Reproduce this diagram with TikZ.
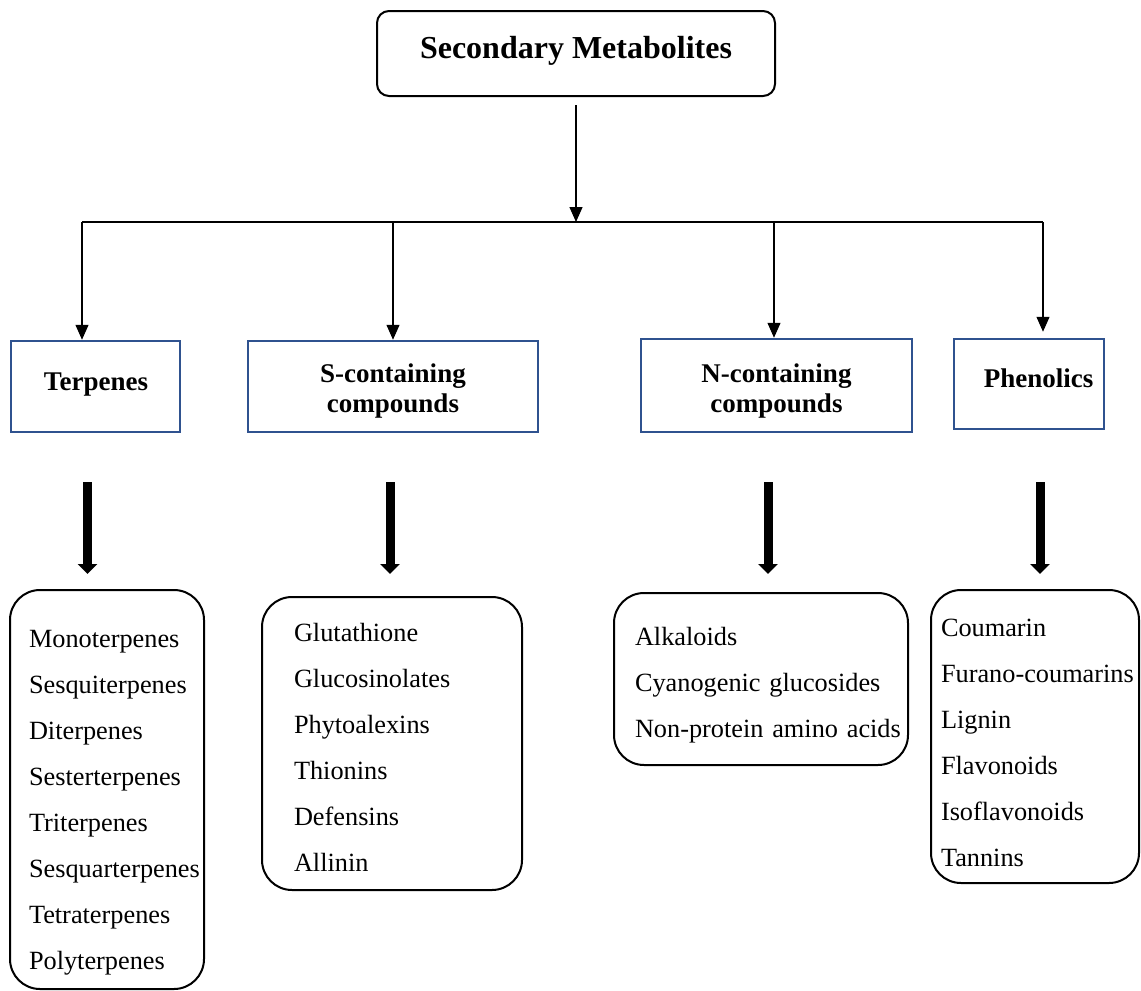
\documentclass[tikz,border=0pt]{standalone}
\usepackage{fontspec}
\setmainfont{Liberation Serif}
\usetikzlibrary{arrows.meta}
\definecolor{boxblue}{RGB}{47,82,143}
\tikzset{
  topbox/.style={draw=black, line width=2pt, rounded corners=12pt, inner sep=0pt,
    font=\fontsize{32pt}{38pt}\selectfont\bfseries, text height=22pt, text depth=13pt},
  catbox/.style={draw=boxblue, line width=2.5pt, inner sep=0pt},
  cattext/.style={inner sep=0pt, align=center, font=\fontsize{27pt}{30pt}\selectfont\bfseries},
  listbox/.style={draw=black, line width=2pt, rounded corners=30pt, inner sep=0pt},
  listtext/.style={inner sep=0pt, align=left, font=\fontsize{26.3pt}{46pt}\selectfont},
  thinarrow/.style={line width=1.3pt, -{Triangle[width=13pt,length=15pt]}},
  thinline/.style={line width=1.3pt},
  bigarrow/.style={line width=9pt, -{Triangle[width=19pt,length=10pt]}}
}
\begin{document}
\begin{tikzpicture}[x=1pt,y=-1pt]
\useasboundingbox (0,0) rectangle (1141,991);

% top box
\node[topbox, minimum width=398pt, minimum height=85pt] (top) at (576,53.5) {Secondary Metabolites};

% category boxes
\node[catbox, minimum width=169pt, minimum height=91pt] (tb) at (95.5,386.5) {};
\node[catbox, minimum width=290pt, minimum height=91pt] (sb) at (393,386.5) {};
\node[catbox, minimum width=271pt, minimum height=93pt] (nb) at (776.5,385.5) {};
\node[catbox, minimum width=150pt, minimum height=90pt] (pb) at (1029,384) {};
\node[cattext, anchor=base] (tbt) at ([xshift=0.5pt,yshift=-3.5pt]tb.center) {Terpenes};
\node[cattext] (sbt) at ([yshift=-4.5pt]sb.center) {S-containing\\compounds};
\node[cattext] (nbt) at ([yshift=-5.5pt]nb.center) {N-containing\\compounds};
\node[cattext, anchor=base] (pbt) at ([xshift=9.5pt,yshift=-3pt]pb.center) {Phenolics};

% list boxes
\node[listbox, minimum width=194pt, minimum height=399pt] (tl) at (107,789.5) {};
\node[listbox, minimum width=260pt, minimum height=293pt] (sl) at (392,743.5) {};
\node[listbox, minimum width=294pt, minimum height=172pt] (nl) at (761,679) {};
\node[listbox, minimum width=208pt, minimum height=293pt] (pl) at (1035,736.5) {};

\node[listtext, text width=156pt] (tlt) at ([yshift=-13pt]tl.center)
  {\mbox{Monoterpenes}\\\mbox{Sesquiterpenes}\\\mbox{Diterpenes}\\\mbox{Sesterterpenes}\\\mbox{Triterpenes}\\\mbox{Sesquarterpenes}\\\mbox{Tetraterpenes}\\\mbox{Polyterpenes}};
\node[listtext, text width=196pt] (slt) at ([yshift=-4pt]sl.center)
  {\mbox{Glutathione}\\\mbox{Glucosinolates}\\\mbox{Phytoalexins}\\\mbox{Thionins}\\\mbox{Defensins}\\\mbox{Allinin}};
\node[listtext, text width=252pt] (nlt) at ([yshift=-6pt]nl.center)
  {\mbox{Alkaloids}\\\mbox{Cyanogenic glucosides}\\\mbox{Non-protein amino acids}};
\node[listtext, text width=188pt] (plt) at ([yshift=-6pt]pl.center)
  {\mbox{Coumarin}\\\mbox{Furano-coumarins}\\\mbox{Lignin}\\\mbox{Flavonoids}\\\mbox{Isoflavonoids}\\\mbox{Tannins}};

% tree connectors
\coordinate (t0) at ([yshift=-8pt]top.south);
\coordinate (bus) at (579,222);
\coordinate (t1) at (t0 |- bus);
\draw[thinarrow] (t0) -- (t1);
\coordinate (d1) at ([xshift=-13.5pt]tb.north |- bus);
\coordinate (d2) at (sb.north |- bus);
\coordinate (d3) at ([xshift=-2.5pt]nb.north |- bus);
\coordinate (d4) at ([xshift=14pt]pb.north |- bus);
\draw[thinline] (d1) -- (d4);
\draw[thinarrow] (d1) -- (d1 |- tb.north);
\draw[thinarrow] (d2) -- (d2 |- sb.north);
\draw[thinarrow] (d3) -- (d3 |- nb.north);
\draw[thinarrow] (d4) -- ([yshift=6pt]d4 |- pb.north);

% thick arrows
\coordinate (a1) at (87.5,482);
\coordinate (a2) at (390,482);
\coordinate (a3) at (768,482);
\coordinate (a4) at (1040,482);
\draw[bigarrow] (a1) -- ([yshift=15pt]a1 |- tl.north);
\draw[bigarrow] (a2) -- ([yshift=22pt]a2 |- sl.north);
\draw[bigarrow] (a3) -- ([yshift=18pt]a3 |- nl.north);
\draw[bigarrow] (a4) -- ([yshift=15pt]a4 |- pl.north);
\end{tikzpicture}
\end{document}
